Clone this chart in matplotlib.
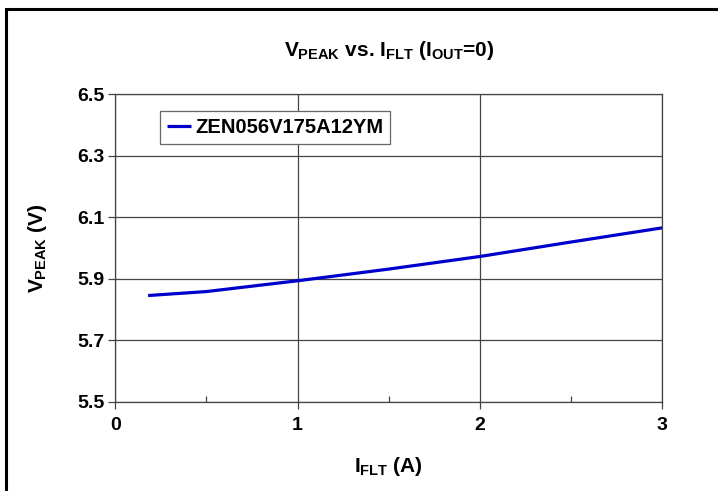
import matplotlib

matplotlib.use("Agg")
import matplotlib.pyplot as plt
from matplotlib import font_manager
from matplotlib.patches import Rectangle
from matplotlib.ticker import MultipleLocator

# values
I_FLT = [0.18, 0.5, 1.0, 1.5, 2.0, 2.5, 3.0]
V_PEAK = [5.845, 5.858, 5.893, 5.931, 5.972, 6.019, 6.065]
SERIES = "ZEN056V175A12YM"
X_TICKS = [0, 1, 2, 3]
Y_TICKS = [5.5, 5.7, 5.9, 6.1, 6.3, 6.5]

BLUE = "#0000cc"
GRID = "#444444"


def _narrow_font():
    # title/axis labels in the original use a condensed bold face
    try:
        font_manager.findfont("Liberation Sans Narrow", fallback_to_default=False)
        return "Liberation Sans Narrow", 16
    except ValueError:
        return "Liberation Sans", 15


NARROW, LABEL_SIZE = _narrow_font()

plt.rcParams.update({
    "font.family": ["Liberation Sans", "DejaVu Sans"],
    "font.weight": "bold",
    "mathtext.fontset": "custom",
    "mathtext.rm": f"{NARROW}:bold",
    "mathtext.it": f"{NARROW}:bold",
    "mathtext.bf": f"{NARROW}:bold",
})

W, H = 718, 491
fig = plt.figure(figsize=(W / 100, H / 100), dpi=100)
ax = fig.add_axes([115.3 / W, 1 - 401.7 / H, (662.3 - 115.3) / W, (401.7 - 94) / H])

ax.plot(I_FLT, V_PEAK, color=BLUE, lw=2.3, label=SERIES, solid_capstyle="butt")

ax.set_xlim(0, 3)
ax.set_ylim(5.5, 6.5)
ax.set_xticks(X_TICKS)
ax.set_yticks(Y_TICKS)
ax.set_yticklabels([f"{v:.1f}" for v in Y_TICKS])
ax.xaxis.set_minor_locator(MultipleLocator(0.5))
ax.grid(True, which="major", color=GRID, lw=0.9)
ax.set_axisbelow(True)
for s in ax.spines.values():
    s.set_color(GRID)
    s.set_linewidth(0.9)
ax.tick_params(axis="both", which="major", direction="out", length=5,
               width=0.9, color=GRID, labelsize=14, pad=3)
ax.tick_params(axis="x", which="major", pad=6)
ax.tick_params(axis="x", which="minor", direction="in", length=4,
               width=0.9, color=GRID)

lab = {"family": [NARROW, "Liberation Sans"], "size": LABEL_SIZE, "weight": "bold"}
ax.set_title(r"$V_{PEAK}$ vs. $I_{FLT}$ ($I_{OUT}$=0)", fontdict=lab, pad=27)
ax.set_xlabel(r"$I_{FLT}$ (A)", fontdict=lab, labelpad=15)
ax.set_ylabel(r"$V_{PEAK}$ (V)", fontdict=lab, labelpad=20)

leg = ax.legend(loc="upper left", bbox_to_anchor=(160 / W, 1 - 111 / H),
                bbox_transform=fig.transFigure, borderaxespad=0,
                fancybox=False, framealpha=1, edgecolor="#666666",
                handlelength=1.2, handletextpad=0.2, borderpad=0.35,
                prop={"size": 14.5, "weight": "bold"})
leg.get_frame().set_linewidth(0.9)

# outer chart border (runs off the right and bottom edges)
fig.patches.append(Rectangle((6 / W, -0.1), 1.2, 1 - 9 / H + 0.1,
                             transform=fig.transFigure, fill=False,
                             edgecolor="black", lw=2.2))

fig.savefig("out.png", dpi=100)
